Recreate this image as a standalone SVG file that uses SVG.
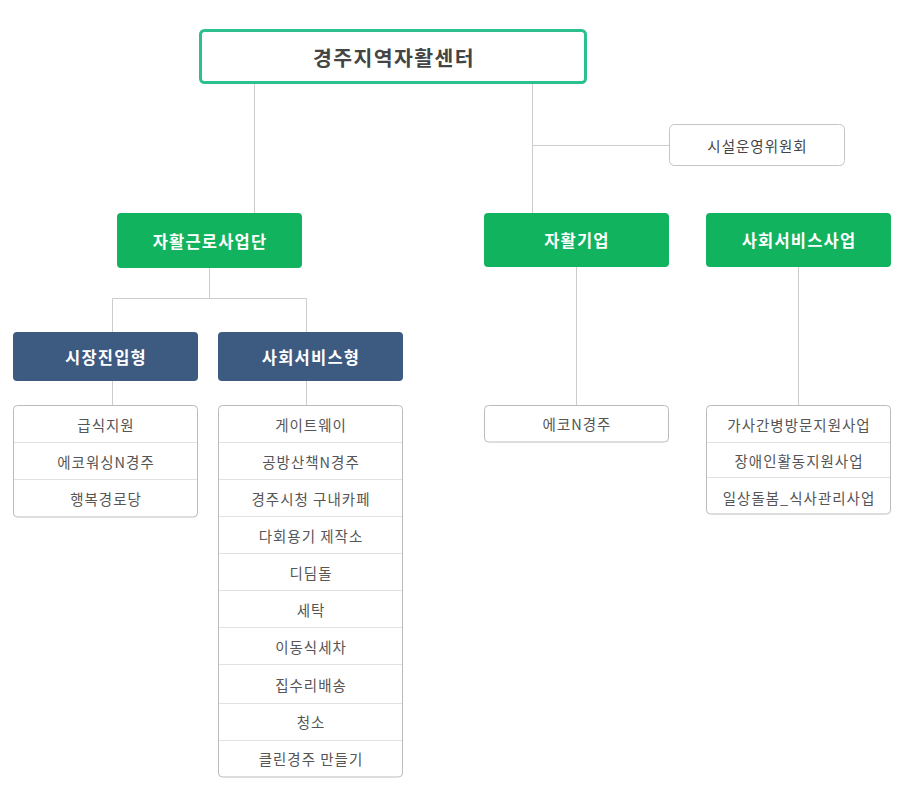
<svg xmlns="http://www.w3.org/2000/svg" width="904" height="795" viewBox="0 0 904 795">
<style>
text{font-family:"Noto Sans CJK KR","Noto Sans",sans-serif;text-anchor:middle;dominant-baseline:central}
.ln{stroke:#cccccc;stroke-width:1;fill:none}
.green{fill:#12b35e}
.blue{fill:#3d5a80}
.wt{fill:#ffffff;font-size:16.5px;font-weight:bold;letter-spacing:1.2px}
.list{fill:#ffffff;stroke:#bbbbbb;stroke-width:1}
.dv{stroke:#e2e2e2;stroke-width:1}
.it{fill:#555555;font-size:14.5px;letter-spacing:1px}
</style>
<rect width="904" height="795" fill="#ffffff"/>
<g id="connectors">
<path class="ln" d="M254.5 83V213M532.5 83V213M532.5 145.5H669M209.5 268V298.5M112.5 298.5H306.5M112.5 298.5V332M306.5 298.5V332M112.5 381V405M306.5 381V405M576.5 267V405M798.5 267V405"/>
</g>
<g id="n-root">
<rect x="200.5" y="30.5" width="385" height="52" rx="4" fill="#ffffff" stroke="#2bc08c" stroke-width="3"/>
<text x="394" y="57" style="font-size:20.5px;font-weight:bold;fill:#444444;letter-spacing:1.4px">경주지역자활센터</text>
</g>
<g id="n-committee">
<rect x="669.5" y="124.5" width="175" height="41" rx="5" fill="#ffffff" stroke="#c4c4c4"/>
<text x="757.5" y="145" class="it" style="fill:#444444">시설운영위원회</text>
</g>
<g id="n-work">
<rect class="green" x="117" y="213" width="185" height="55" rx="4"/>
<text class="wt" x="210" y="240.5">자활근로사업단</text>
</g>
<g id="n-enterprise">
<rect class="green" x="484" y="213" width="185" height="54" rx="4"/>
<text class="wt" x="577" y="240">자활기업</text>
</g>
<g id="n-social">
<rect class="green" x="706" y="213" width="185" height="54" rx="4"/>
<text class="wt" x="799" y="240">사회서비스사업</text>
</g>
<g id="n-market">
<rect class="blue" x="13" y="332" width="185" height="49" rx="4"/>
<text class="wt" x="106" y="356.5">시장진입형</text>
</g>
<g id="n-socialtype">
<rect class="blue" x="218" y="332" width="185" height="49" rx="4"/>
<text class="wt" x="311" y="356.5">사회서비스형</text>
</g>
<g id="n-market-list">
<rect class="list" x="13.5" y="405.5" width="184" height="111.5" rx="4"/>
<path class="dv" d="M14 442.5H197M14 479.5H197"/>
<text class="it" x="106" y="424">급식지원</text>
<text class="it" x="106" y="461">에코워싱N경주</text>
<text class="it" x="106" y="498">행복경로당</text>
</g>
<g id="n-social-list">
<rect class="list" x="218.5" y="405.5" width="184" height="371.5" rx="4"/>
<path class="dv" d="M219 442.5H402M219 479.5H402M219 516.5H402M219 553.5H402M219 590.5H402M219 627.5H402M219 664.5H402M219 703.5H402M219 740.5H402"/>
<text class="it" x="311" y="424">게이트웨이</text>
<text class="it" x="311" y="461">공방산책N경주</text>
<text class="it" x="311" y="498">경주시청 구내카페</text>
<text class="it" x="311" y="535.5">다회용기 제작소</text>
<text class="it" x="311" y="572.5">디딤돌</text>
<text class="it" x="311" y="609.5">세탁</text>
<text class="it" x="311" y="646.5">이동식세차</text>
<text class="it" x="311" y="684">집수리배송</text>
<text class="it" x="311" y="721.5">청소</text>
<text class="it" x="311" y="758.5">클린경주 만들기</text>
</g>
<g id="n-eco">
<rect class="list" x="484.5" y="405.5" width="184" height="36.5" rx="4"/>
<text class="it" x="577" y="423.5">에코N경주</text>
</g>
<g id="n-socialbiz-list">
<rect class="list" x="706.5" y="405.5" width="184" height="108.5" rx="4"/>
<path class="dv" d="M707 442.5H890M707 477.5H890"/>
<text class="it" x="799" y="424">가사간병방문지원사업</text>
<text class="it" x="799" y="460.5">장애인활동지원사업</text>
<text class="it" x="799" y="497">일상돌봄_식사관리사업</text>
</g>
</svg>
